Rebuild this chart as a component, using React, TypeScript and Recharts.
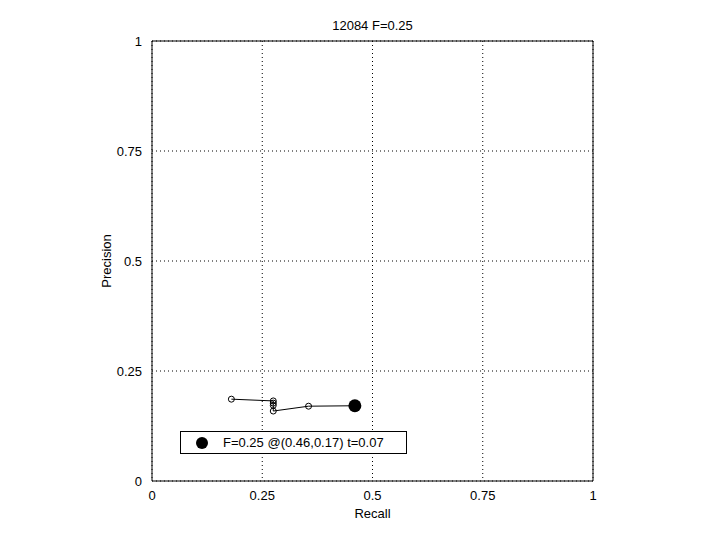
import {
  ComposedChart,
  Scatter,
  XAxis,
  YAxis,
  CartesianGrid,
  ReferenceLine,
} from "recharts";

const recall = [0.18, 0.275, 0.275, 0.275, 0.275, 0.355, 0.46];
const precision = [0.186, 0.182, 0.177, 0.172, 0.159, 0.17, 0.171];

const bestRecall = [0.46];
const bestPrecision = [0.171];
const bestLabel = "F=0.25 @(0.46,0.17) t=0.07";

const ticks = [0, 0.25, 0.5, 0.75, 1];
const tickLabels = ["0", "0.25", "0.5", "0.75", "1"];

const title = "12084 F=0.25";

const curve = recall.map((r, i) => ({ x: r, y: precision[i] }));
const best = bestRecall.map((r, i) => ({ x: r, y: bestPrecision[i] }));

const font = "'Liberation Sans', Arial, sans-serif";

function YLabel(props: any) {
  const vb = props.viewBox;
  const x = vb.x + 14;
  const y = vb.y + vb.height / 2;
  return (
    <text
      x={x}
      y={y}
      transform={`rotate(-90, ${x}, ${y})`}
      textAnchor="middle"
      dominantBaseline="central"
      fontSize={13}
      fontFamily={font}
      fill="#000"
    >
      Precision
    </text>
  );
}

function LegendBox() {
  return (
    <div
      style={{
        position: "absolute",
        left: 180,
        top: 431,
        border: "1px solid #000",
        background: "#fff",
        width: 227,
        height: 23,
        display: "flex",
        alignItems: "center",
        fontFamily: font,
        fontSize: 13,
        boxSizing: "border-box",
      }}
    >
      <svg width={42} height={20}>
        <circle cx={21} cy={10} r={6} fill="#000" />
      </svg>
      <span>{bestLabel}</span>
    </div>
  );
}

export default function App() {
  return (
    <div
      style={{
        position: "absolute",
        left: 0,
        top: 0,
        width: 720,
        height: 540,
        background: "#fff",
      }}
    >
      <div
        style={{
          position: "absolute",
          top: 18,
          left: 152,
          width: 441,
          textAlign: "center",
          fontFamily: font,
          fontSize: 13,
        }}
      >
        {title}
      </div>
      <ComposedChart
        width={720}
        height={540}
        margin={{ top: 41, right: 127, bottom: 29, left: 92 }}
      >
        <CartesianGrid
          stroke="#000"
          strokeDasharray="1 3"
          horizontalValues={ticks}
          verticalValues={ticks}
        />
        <XAxis
          type="number"
          dataKey="x"
          domain={[0, 1]}
          ticks={ticks}
          tickFormatter={(v: number) => tickLabels[ticks.indexOf(v)]}
          tickLine={false}
          axisLine={{ stroke: "#000" }}
          tick={{ fill: "#000", fontSize: 13, fontFamily: font }}
          tickMargin={4}
          height={30}
          label={{
            value: "Recall",
            position: "insideBottom",
            offset: -7,
            fill: "#000",
            fontSize: 13,
            fontFamily: font,
          }}
        />
        <YAxis
          type="number"
          dataKey="y"
          domain={[0, 1]}
          ticks={ticks}
          tickFormatter={(v: number) => tickLabels[ticks.indexOf(v)]}
          tickLine={false}
          axisLine={{ stroke: "#000" }}
          tick={{ fill: "#000", fontSize: 13, fontFamily: font }}
          tickMargin={4}
          width={60}
          label={<YLabel />}
        />
        <ReferenceLine y={1} stroke="#000" />
        <ReferenceLine x={1} stroke="#000" />
        <Scatter
          data={curve}
          line={{ stroke: "#000", strokeWidth: 1 }}
          shape={(p: any) => (
            <circle cx={p.cx} cy={p.cy} r={3} fill="none" stroke="#000" />
          )}
          isAnimationActive={false}
          legendType="none"
        />
        <Scatter
          data={best}
          name={bestLabel}
          shape={(p: any) => <circle cx={p.cx} cy={p.cy} r={6.5} fill="#000" />}
          isAnimationActive={false}
        />
      </ComposedChart>
      <LegendBox />
    </div>
  );
}
